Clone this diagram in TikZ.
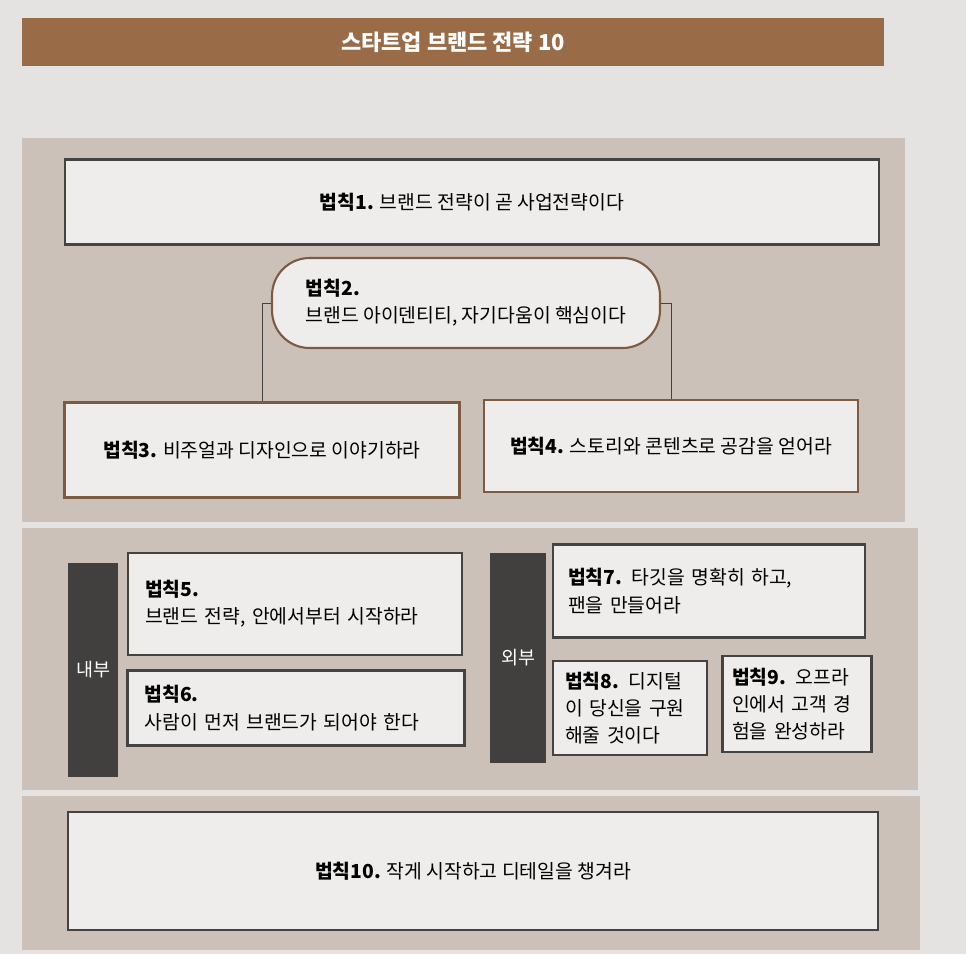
\documentclass[tikz,border=0pt]{standalone}
\usepackage{fontspec}
\setmainfont{Noto Sans CJK KR}
\usepackage{tikz}
\usetikzlibrary{shapes,arrows}
\definecolor{pagegray}{HTML}{E4E3E1}
\definecolor{titlebrown}{HTML}{9A6B47}
\definecolor{panelgray}{HTML}{CCC1B9}
\definecolor{boxfill}{HTML}{EEEDEB}
\definecolor{brownline}{HTML}{7B5B43}
\definecolor{darkline}{HTML}{444342}
\definecolor{tagdark}{HTML}{42403E}
\tikzstyle{block} = [draw=darkline, line width=1.2pt, fill=boxfill, rectangle,
    font=\fontsize{11}{15.5}\selectfont]
\tikzstyle{brownblock} = [block, draw=brownline]
\tikzstyle{sidetag} = [fill=tagdark, rectangle, text=white, minimum width=1cm,
    font=\fontsize{10.5}{13}\selectfont]

\begin{document}
\begin{tikzpicture}[x=0.02cm, y=-0.02cm]
    \fill [pagegray] (0,0) rectangle (966,954);
    \useasboundingbox (0,0) rectangle (966,954);
    \node [fill=titlebrown, minimum width=17.24cm, minimum height=0.96cm, text=white,
        font=\fontsize{12.5}{14}\selectfont\bfseries] (title) at (453,42) {스타트업 브랜드 전략 10};
    \fill [panelgray] (22,138) rectangle (905,522);
    \fill [panelgray] (22,528) rectangle (918,790);
    \fill [panelgray] (22,796) rectangle (920,950);
    \node [block, minimum width=16.3cm, minimum height=1.7cm] (law1) at (472,202) {\textbf{법칙1.} 브랜드 전략이 곧 사업전략이다};
    \node [brownblock, rounded corners=0.75cm, align=left, minimum width=7.76cm, minimum height=1.8cm] (law2) at (466,303) {\textbf{법칙2.}\\브랜드 아이덴티티, 자기다움이 핵심이다};
    \node [brownblock, minimum width=7.9cm, minimum height=1.9cm] (law3) at (262,450) {\textbf{법칙3.} 비주얼과 디자인으로 이야기하라};
    \node [brownblock, minimum width=7.48cm, minimum height=1.84cm] (law4) at (671,446) {\textbf{법칙4.} 스토리와 콘텐츠로 공감을 얻어라};
    \draw [darkline, line width=0.5pt] (law2.west) -| (law3.north);
    \draw [darkline, line width=0.5pt] (law2.east) -| (law4.north);
    \node [sidetag, minimum height=4.28cm] (inner) at (93,670) {내부};
    \node [block, text width=6cm, align=left, minimum width=6.68cm, minimum height=2.04cm] (law5) at (295,604) {\textbf{법칙5.}\\브랜드 전략, 안에서부터 시작하라};
    \node [block, text width=6.06cm, align=left, minimum width=6.74cm, minimum height=1.5cm] (law6) at (296,708) {\textbf{법칙6.}\\사람이 먼저 브랜드가 되어야 한다};
    \node [sidetag, minimum width=1.12cm, minimum height=4.2cm] (outer) at (518,658) {외부};
    \node [block, text width=5.64cm, align=left, minimum width=6.24cm, minimum height=1.86cm] (law7) at (709,591) {\textbf{법칙7.} 타깃을 명확히 하고,\\팬을 만들어라};
    \node [block, text width=2.6cm, align=left, minimum width=3.08cm, minimum height=1.88cm] (law8) at (630,708) {\textbf{법칙8.} 디지털\\이 당신을 구원\\해줄 것이다};
    \node [block, text width=2.6cm, align=left, minimum width=2.98cm, minimum height=1.92cm] (law9) at (797,704) {\textbf{법칙9.} 오프라\\인에서 고객 경\\험을 완성하라};
    \node [block, minimum width=16.2cm, minimum height=2.36cm] (law10) at (473,871) {\textbf{법칙10.} 작게 시작하고 디테일을 챙겨라};
\end{tikzpicture}
\end{document}
